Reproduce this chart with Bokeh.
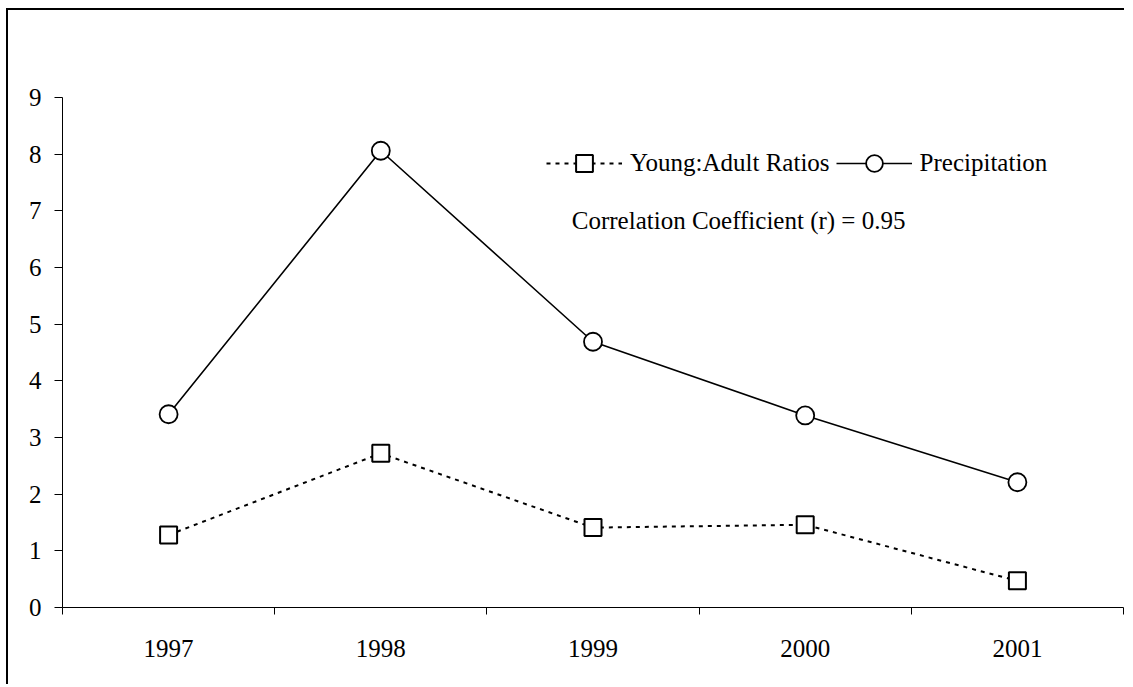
from bokeh.plotting import figure
from bokeh.models import (Range1d, FixedTicker, Legend, LegendItem, Label, ColumnDataSource)
from bokeh.embed import file_html
from bokeh.resources import INLINE

# ---- data ----
years = ["1997", "1998", "1999", "2000", "2001"]
precipitation = [3.41, 8.06, 4.69, 3.39, 2.21]
young_adult = [1.28, 2.72, 1.41, 1.46, 0.47]
y_ticks = [0, 1, 2, 3, 4, 5, 6, 7, 8, 9]

FONT = "Liberation Serif"

xc = [i + 0.5 for i in range(len(years))]
src = ColumnDataSource(dict(x=xc, year=years, pr=precipitation, ya=young_adult))

p = figure(width=1118, height=676, x_range=Range1d(0, len(years)), y_range=Range1d(0, 9),
           output_backend="svg", toolbar_location=None,
           min_border_left=54, min_border_top=87, min_border_bottom=79, min_border_right=3)
p.outline_line_color = None
p.xgrid.grid_line_color = None
p.ygrid.grid_line_color = None
p.background_fill_color = "white"
p.border_fill_color = "white"
p.styles = {"margin": "8px 0px 0px 6px",
            "border-left": "2px solid black", "border-top": "2px solid black"}

# x axis: labels at category centres, ticks at category boundaries
p.xaxis.ticker = FixedTicker(ticks=xc, minor_ticks=list(range(len(years) + 1)))
p.xaxis.major_label_overrides = {x: y for x, y in zip(xc, years)}
p.xaxis.major_tick_line_color = None
p.xaxis.major_tick_out = 0
p.xaxis.major_tick_in = 0
p.xaxis.minor_tick_line_color = "black"
p.xaxis.minor_tick_out = 7
p.xaxis.minor_tick_in = 0
p.xaxis.major_label_standoff = 25

p.yaxis.ticker = FixedTicker(ticks=y_ticks)
p.yaxis.minor_tick_line_color = None
p.yaxis.major_tick_out = 8
p.yaxis.major_tick_in = 0
p.yaxis.major_label_standoff = 13

for ax in (p.xaxis, p.yaxis):
    ax.axis_line_color = "black"
    ax.axis_line_width = 1
    ax.major_label_text_font = FONT
    ax.major_label_text_font_size = "25px"
    ax.major_label_text_color = "black"

# series
l_pr = p.line("x", "pr", source=src, line_color="black", line_width=1.6)
m_pr = p.scatter("x", "pr", source=src, marker="circle", size=18, fill_color="white",
                 line_color="black", line_width=1.8)
l_ya = p.line("x", "ya", source=src, line_color="black", line_width=2, line_dash="4 5")
m_ya = p.scatter("x", "ya", source=src, marker="square", size=17, fill_color="white",
                 line_color="black", line_width=2)

legend = Legend(items=[LegendItem(label="Young:Adult Ratios", renderers=[l_ya, m_ya]),
                       LegendItem(label="Precipitation", renderers=[l_pr, m_pr])],
                orientation="horizontal", location=(484, 423),
                glyph_width=76, glyph_height=42, label_standoff=8, spacing=6,
                padding=0, margin=0, border_line_color=None, background_fill_alpha=0,
                label_text_font=FONT, label_text_font_size="25px", label_text_color="black")
p.add_layout(legend, "center")

p.add_layout(Label(x=2.4, y=6.83, text="Correlation Coefficient (r) = 0.95",
                   text_font=FONT, text_font_size="25px", text_color="black",
                   text_baseline="alphabetic"))

open("out.html", "w").write(file_html(p, INLINE))
